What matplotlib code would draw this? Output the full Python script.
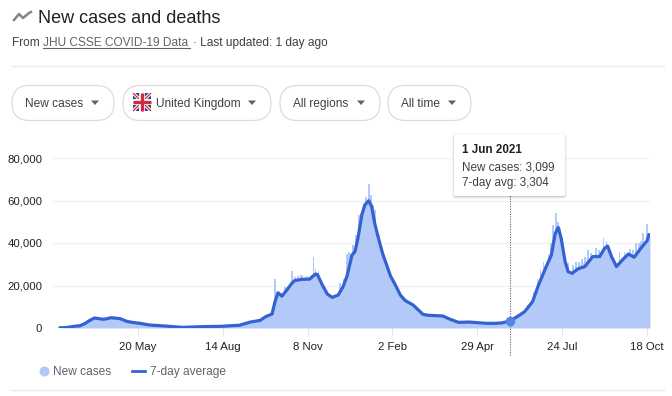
import matplotlib
matplotlib.use('Agg')
import matplotlib.pyplot as plt
import pandas as pd
from matplotlib.patches import FancyBboxPatch, Rectangle

plt.rcParams['font.family'] = ['Liberation Sans', 'DejaVu Sans']

# days counted from the first day of data
first_day = pd.Timestamp('2020-03-02')

avg_days = [0, 4, 8, 12, 16, 20, 25, 30, 35, 44, 48, 52, 61, 68, 74, 81, 91, 106, 124, 142,
            164, 182, 193, 203, 208, 215, 218, 221, 225, 230, 235, 238, 245, 253, 259, 261,
            266, 271, 276, 282, 287, 291, 296, 299, 302, 306, 309, 313, 316, 319, 322, 327,
            335, 340, 345, 350, 358, 368, 373, 388, 395, 404, 415, 432, 442, 448, 456, 464,
            471, 479, 485, 492, 498, 502, 505, 508, 512, 515, 519, 525, 532, 540, 547, 552,
            555, 559, 564, 570, 576, 582, 590, 595, 597]
avg_values = [100, 150, 300, 600, 900, 1000, 2000, 3500, 4700, 4100, 4400, 4850, 4400, 3100,
              2600, 2200, 1400, 950, 300, 600, 800, 1300, 2800, 3600, 5200, 6600, 12400,
              16600, 15000, 17900, 21000, 22300, 22900, 23000, 25400, 25100, 20200, 16000,
              14400, 15500, 19500, 24500, 34300, 35900, 42200, 53200, 57900, 59900, 57100,
              49300, 43700, 35100, 24500, 20200, 15500, 12900, 10800, 6400, 6000, 5650, 4200,
              2650, 2800, 2200, 2200, 2400, 3304, 5500, 7700, 12400, 20200, 28000, 34300,
              44500, 47300, 42200, 31200, 26500, 25700, 27800, 28900, 33600, 33600, 37500,
              38600, 33600, 28900, 32000, 34800, 33300, 38300, 41000, 44000]

# lower body of the daily bars
case_days = avg_days + [598]
case_values = [100, 150, 300, 600, 900, 1000, 2000, 3500, 4800, 4300, 4500, 4900, 4400, 3200,
               2700, 2300, 1500, 1000, 400, 700, 900, 1400, 3000, 3800, 5500, 7000, 13000,
               17000, 16000, 18500, 21500, 23000, 23800, 23500, 25500, 25000, 19800, 15500,
               14000, 16500, 21000, 26500, 35500, 37500, 45000, 55000, 59000, 61000, 56000,
               48000, 43000, 34000, 23500, 19500, 15000, 12500, 10500, 6600, 6000, 5600, 4300,
               2700, 2900, 2300, 2300, 2500, 3400, 6000, 8500, 13500, 22000, 30000, 37000,
               46000, 46000, 38000, 28000, 25000, 26500, 29500, 31000, 34500, 34000, 38500,
               38500, 31500, 29500, 33500, 35000, 34500, 39000, 42000, 43000, 43300]

# single days that stick out of the body
spike_days = [218, 228, 235, 238, 241, 244, 246, 249, 251, 255, 257, 259, 262, 284, 288, 291,
              293, 295, 297, 300, 303, 305, 307, 310, 313, 315, 317, 319, 321, 324, 474, 480,
              484, 487, 490, 495, 498, 500, 503, 505, 507, 515, 520, 523, 526, 529, 532, 535,
              538, 543, 546, 551, 554, 557, 559, 567, 572, 575, 578, 581, 584, 587, 589, 591,
              595]
spike_values = [23000, 19500, 26800, 24000, 24500, 24800, 25000, 24500, 24500, 25000, 33300,
                28000, 27000, 21000, 23000, 35000, 36000, 35000, 39000, 44000, 53000, 54000,
                56000, 61700, 68000, 62500, 58000, 55500, 47000, 44000, 10800, 17000, 23000,
                27300, 31000, 35000, 40000, 48500, 54000, 50000, 47000, 30400, 29500, 31200,
                31000, 32500, 33500, 36700, 35500, 37800, 36500, 42200, 41000, 38000, 34300,
                35600, 36000, 35000, 37000, 36500, 39800, 39800, 41000, 44500, 49000]

y_ticks = [0, 20000, 40000, 60000, 80000]
y_labels = ['0', '20,000', '40,000', '60,000', '80,000']
x_tick_dates = ['2020-05-20', '2020-08-14', '2020-11-08', '2021-02-02', '2021-04-29', '2021-07-24', '2021-10-18']
x_labels = ['20 May', '14 Aug', '8 Nov', '2 Feb', '29 Apr', '24 Jul', '18 Oct']

hover_date = pd.Timestamp('2021-06-01')
hover_avg = 3304

filters = ['New cases', 'United Kingdom', 'All regions', 'All time']
filter_left = [12, 123, 280, 388]
filter_right = [114, 271, 380, 471]
filter_text_x = [25, 156, 293, 401]

W, H = 672, 396
BAR = '#b3c9f7'
LINE = '#3462d2'
TXT = '#3c4043'
GREY = '#5f6368'


def to_dates(days):
    return [first_day + pd.Timedelta(days=d) for d in days]


fig = plt.figure(figsize=(W / 100, H / 100), dpi=100)

# page furniture, in pixels
ui = fig.add_axes([0, 0, 1, 1])
ui.set_xlim(0, W)
ui.set_ylim(H, 0)
ui.axis('off')

ui.plot([14, 19, 23, 29, 31], [20, 14, 18, 13, 12], color='#80868b', lw=1.8)
ui.text(38.5, 23, 'New cases and deaths', fontsize=13, color='#202124', va='baseline')
ui.text(12, 46, 'From ', fontsize=8.6, color=TXT, va='baseline')
ui.text(43, 46, 'JHU CSSE COVID-19 Data', fontsize=8.6, color=GREY, va='baseline')
ui.plot([43, 190], [48, 48], color=GREY, lw=0.8)
ui.text(193, 46, '· Last updated: 1 day ago', fontsize=8.6, color=TXT, va='baseline')
ui.plot([12, 664], [66, 66], color='#e8eaed', lw=1)
ui.plot([12, 664], [390, 390], color='#e8eaed', lw=1)

for name, l, r, tx in zip(filters, filter_left, filter_right, filter_text_x):
    ui.add_patch(FancyBboxPatch((l, 85.5), r - l, 35, boxstyle='round,pad=0,rounding_size=17.5',
                                fc='white', ec='#dadce0', lw=0.9))
    ui.text(tx, 107, name, fontsize=8.6, color=TXT, va='baseline')
    ui.fill([r - 23, r - 15, r - 19], [100.5, 100.5, 105], color=GREY, lw=0)

# flag
ui.add_patch(Rectangle((133, 93), 18, 18, fc='#2b3f8f', ec='none'))
ui.plot([133, 151], [93, 111], color='white', lw=2.4, solid_capstyle='butt')
ui.plot([133, 151], [111, 93], color='white', lw=2.4, solid_capstyle='butt')
ui.plot([133, 151], [93, 111], color='#cf2b3f', lw=0.9, solid_capstyle='butt')
ui.plot([133, 151], [111, 93], color='#cf2b3f', lw=0.9, solid_capstyle='butt')
ui.plot([142, 142], [93, 111], color='white', lw=4.2, solid_capstyle='butt')
ui.plot([133, 151], [102, 102], color='white', lw=4.2, solid_capstyle='butt')
ui.plot([142, 142], [93, 111], color='#cf2b3f', lw=2.4, solid_capstyle='butt')
ui.plot([133, 151], [102, 102], color='#cf2b3f', lw=2.4, solid_capstyle='butt')

# legend
ui.scatter([44], [370.5], s=52, color=BAR, linewidths=0)
ui.text(53, 375, 'New cases', fontsize=8.6, color=GREY, va='baseline')
ui.plot([132, 145], [371, 371], color=LINE, lw=2)
ui.text(150, 375, '7-day average', fontsize=8.6, color=GREY, va='baseline')

# chart
ax = fig.add_axes([52 / W, (H - 328) / H, (650 - 52) / W, 170 / H], zorder=2)
ax.patch.set_alpha(0)
ax.set_ylim(0, 80000)
ax.set_xlim(first_day - pd.Timedelta(days=8), first_day + pd.Timedelta(days=598))
ax.set_yticks(y_ticks)
ax.set_yticklabels(y_labels)
ax.set_xticks(pd.to_datetime(x_tick_dates))
ax.set_xticklabels(x_labels)
ax.tick_params(axis='y', length=0, pad=7, labelsize=8.2, labelcolor='#202124')
ax.tick_params(axis='x', length=6, width=0.8, color='#e3e5e8', pad=4, labelsize=8.2, labelcolor='#202124')
ax.grid(axis='y', color='#f1f3f4', lw=1)
ax.set_axisbelow(True)
for s in ax.spines.values():
    s.set_visible(False)

ax.fill_between(to_dates(case_days), case_values, 0, color=BAR, lw=0)
ax.bar(to_dates(spike_days), spike_values, width=1.7, color=BAR, lw=0)
ax.plot(to_dates(avg_days), avg_values, color=LINE, lw=2.3, solid_joinstyle='round', solid_capstyle='round')
ax.scatter([hover_date], [hover_avg], s=48, color='#5583ee', linewidths=0, zorder=5)
ax.plot([hover_date, hover_date], [-0.16, 0.78], transform=ax.get_xaxis_transform(), color='#5f6368',
        lw=0.8, ls=(0, (1, 1.3)), clip_on=False, zorder=4)

# tooltip sits on top of everything
top = fig.add_axes([0, 0, 1, 1], zorder=3)
top.set_xlim(0, W)
top.set_ylim(H, 0)
top.axis('off')
for grow, alpha in [(3, 0.04), (2, 0.06), (1, 0.10)]:
    top.add_patch(FancyBboxPatch((454 - grow + 1, 134 - grow + 2), 111 + 2 * grow - 2, 62 + 2 * grow - 2,
                                 boxstyle='round,pad=0,rounding_size=3', fc='black', ec='none', alpha=alpha))
top.add_patch(FancyBboxPatch((454, 134), 111, 62, boxstyle='round,pad=0,rounding_size=2', fc='white', ec='none'))
top.text(462.5, 153, '1 Jun 2021', fontsize=8.4, fontweight='bold', color='#202124', va='baseline')
top.text(462.5, 170, 'New cases: 3,099', fontsize=8.4, color=TXT, va='baseline')
top.text(462.5, 186, '7-day avg: 3,304', fontsize=8.4, color=TXT, va='baseline')

fig.savefig('out.png', dpi=100)
